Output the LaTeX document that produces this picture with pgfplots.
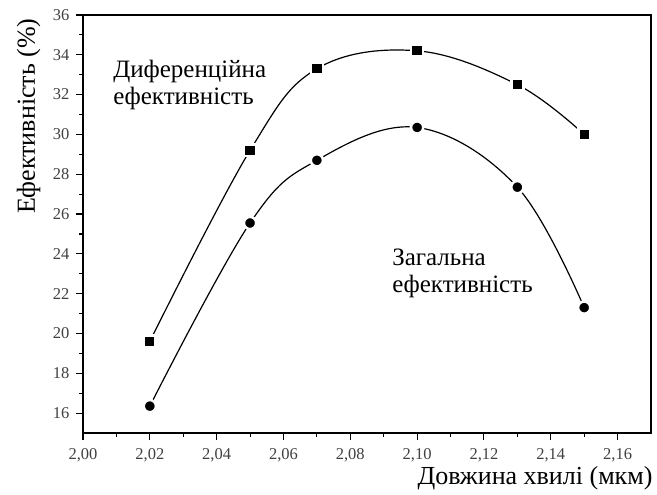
\documentclass[border=0pt]{standalone}
\usepackage{fontspec}
\setmainfont{Liberation Serif}
\usepackage{pgfplots}
\pgfplotsset{compat=1.18}
\begin{document}
\begin{tikzpicture}
\begin{axis}[
  at={(0,0)}, anchor=south west,
  scale only axis, width=568bp, height=418bp,
  xmin=2.00, xmax=2.17, ymin=15, ymax=36,
  xtick={2.00,2.02,...,2.161}, ytick={16,18,...,36},
  minor x tick num=1, minor y tick num=1,
  xtick pos=bottom, ytick pos=left, tick align=outside,
  major tick length=7bp, minor tick length=4bp,
  every tick/.style={black, line width=1.1bp},
  axis line style={line width=1.3bp},
  /pgf/number format/assume math mode=true,
  tick label style={text=black!75},
  xticklabel={\fontsize{16.5bp}{19bp}\selectfont\pgfmathprintnumber[fixed,fixed zerofill,precision=2,use comma,assume math mode=true]{\tick}},
  yticklabel={\fontsize{16.5bp}{19bp}\selectfont\pgfmathprintnumber[assume math mode=true]{\tick}},
  xticklabel style={yshift=-5bp},
  yticklabel style={xshift=-3bp},
  xlabel={Довжина хвилі (мкм)},
  ylabel={Ефективність (\%)},
  xlabel style={font=\fontsize{26bp}{30bp}\selectfont, at={(rel axis cs:1,0)}, anchor=north east, yshift=-30bp, xshift=5bp},
  ylabel style={font=\fontsize{26bp}{30bp}\selectfont, at={([xshift=-48bp]rel axis cs:0,1)}, anchor=base east},
  clip=false,
]
\addplot[black, line width=1.2bp, smooth, tension=0.62, mark=square*,
  mark options={fill=black, draw=white, line width=2.5bp}, mark size=5.9bp]
  coordinates {(2.02,19.6) (2.05,29.2) (2.07,33.3) (2.10,34.2) (2.13,32.5) (2.15,30.0)};
\addplot[black, line width=1.2bp, smooth, tension=0.62, mark=*,
  mark options={fill=black, draw=white, line width=2.5bp}, mark size=6.1bp]
  coordinates {(2.02,16.35) (2.05,25.55) (2.07,28.7) (2.10,30.35) (2.13,27.35) (2.15,21.3)};
\node[anchor=north west, inner sep=0pt, align=left, font=\fontsize{25bp}{27bp}\selectfont]
  at (axis cs:2.009,33.75) {Диференційна\\ефективність};
\node[anchor=north west, inner sep=0pt, align=left, font=\fontsize{25bp}{27bp}\selectfont]
  at (axis cs:2.0925,24.25) {Загальна\\ефективність};
\end{axis}
\useasboundingbox (-83bp,-62bp) rectangle (574bp,433bp);
\end{tikzpicture}
\end{document}
